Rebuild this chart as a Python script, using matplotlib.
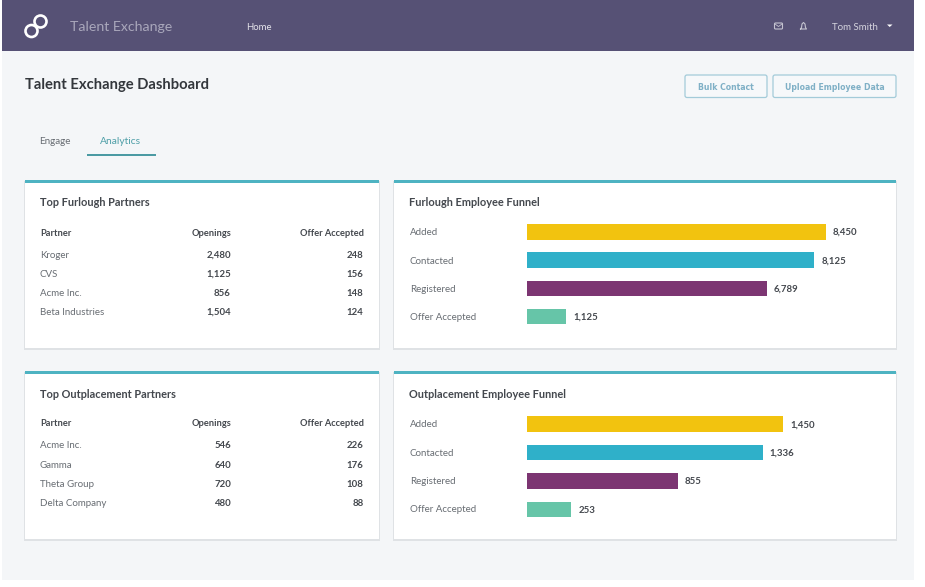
import matplotlib
matplotlib.use('Agg')
import matplotlib.pyplot as plt
from matplotlib.patches import Rectangle, FancyBboxPatch, Circle, Polygon

plt.rcParams['font.family'] = ['Lato', 'DejaVu Sans']

# table data
table_header = ["Partner", "Openings", "Offer Accepted"]
furlough_partners = ["Kroger", "CVS", "Acme Inc.", "Beta Industries"]
furlough_openings = ["2,480", "1,125", "856", "1,504"]
furlough_accepted = ["248", "156", "148", "124"]
outplace_partners = ["Acme Inc.", "Gamma", "Theta Group", "Delta Company"]
outplace_openings = ["546", "640", "720", "480"]
outplace_accepted = ["226", "176", "108", "88"]

# funnel data
stages = ["Added", "Contacted", "Registered", "Offer Accepted"]
stage_colors = ["#f2c30f", "#2fb0c9", "#7c3572", "#66c5a8"]
furlough_funnel = [8450, 8125, 6789, 1125]
outplace_funnel = [1450, 1336, 855, 253]

W, H = 925, 587
TEXT = "#44484e"
GREY = "#686d73"
TEAL = "#4eb3c2"

fig = plt.figure(figsize=(W / 100, H / 100), dpi=100, facecolor="white")
ax = fig.add_axes([0, 0, 1, 1])
ax.set_xlim(0, W)
ax.set_ylim(H, 0)
ax.axis("off")

# page + header
ax.add_patch(Rectangle((2, 0), 912, 580, fc="#f4f6f8", ec="none"))
ax.add_patch(Rectangle((2, 0), 912, 51, fc="#565175", ec="none"))

# logo
ax.add_patch(Circle((31.5, 31), 6, fc="none", ec="white", lw=1.9))
ax.add_patch(Circle((40.5, 21.5), 6, fc="none", ec="white", lw=1.9))

ax.text(70, 27, "Talent Exchange", color="#a9a7bb", fontsize=10.2, va="center")
ax.text(246, 27, "Home", color="#e4e3ea", fontsize=6.9, va="center")
ax.text(832, 27, "Tom Smith", color="#d5d4de", fontsize=7, va="center")
ax.add_patch(Polygon([[887, 24.5], [892.5, 24.5], [889.7, 27]], fc="white", ec="none"))

# mail + bell icons
ax.add_patch(FancyBboxPatch((774.5, 23), 8, 6, boxstyle="round,pad=0,rounding_size=1",
                            fc="none", ec="#c4c3d0", lw=0.8))
ax.plot([775, 778.5, 782], [24, 26.5, 24], color="#c4c3d0", lw=0.6)
ax.plot([800.5, 801.5, 802, 803.5, 805, 805.5, 806.5, 800.5],
        [29, 27.5, 24, 22.5, 24, 27.5, 29, 29], color="#c4c3d0", lw=0.8)

# title
ax.text(25, 85.5, "Talent Exchange Dashboard", color="#33373c", fontsize=10.6,
        fontweight="bold", va="center")

# buttons
for x0, x1, label in [(685, 767, "Bulk Contact"), (773, 896, "Upload Employee Data")]:
    ax.add_patch(FancyBboxPatch((x0, 75), x1 - x0, 22.5, boxstyle="round,pad=0,rounding_size=2",
                                fc="#f6f8fa", ec="#a3cbd9", lw=0.9))
    ax.text((x0 + x1) / 2, 87, label, color="#7fb0c6", fontsize=5.6, fontweight="bold",
            va="center", ha="center", family="DejaVu Sans")

# tabs
ax.text(39.5, 142, "Engage", color=GREY, fontsize=7.1, va="center")
ax.text(100, 142, "Analytics", color="#4f9fa8", fontsize=7.4, va="center")
ax.add_patch(Rectangle((86.5, 153.5), 69, 2.2, fc="#4b9aa3", ec="none"))


def card(x0, y0, x1, y1, title):
    ax.add_patch(Rectangle((x0 - 1, y0 + 1), x1 - x0 + 2, y1 - y0 + 1, fc="#dfe2e5", ec="none"))
    ax.add_patch(Rectangle((x0, y0), x1 - x0, y1 - y0, fc="white", ec="none"))
    ax.add_patch(Rectangle((x0, y0), x1 - x0, 2.5, fc=TEAL, ec="none"))
    ax.text(x0 + 15, y0 + 23, title, color=TEXT, fontsize=7.9, fontweight="bold", va="center")


def table(y0, partners, openings, accepted):
    ax.text(40, y0 + 53, table_header[0], color=TEXT, fontsize=6.7, fontweight="bold", va="center")
    ax.text(231, y0 + 53, table_header[1], color=TEXT, fontsize=6.7, fontweight="bold", va="center", ha="right")
    ax.text(363.5, y0 + 53, table_header[2], color=TEXT, fontsize=6.7, fontweight="bold", va="center", ha="right")
    for i in range(len(partners)):
        y = y0 + 75 + i * 19.1
        ax.text(40, y, partners[i], color=GREY, fontsize=7, va="center")
        ax.text(231, y, openings[i], color=TEXT, fontsize=6.9, fontweight="bold", va="center", ha="right")
        ax.text(363.5, y, accepted[i], color=TEXT, fontsize=6.9, fontweight="bold", va="center", ha="right")


def funnel(values, right_px, centers):
    # axes spans exactly the longest bar, labels sit outside it
    top = centers[0] - 14.25
    bottom = centers[-1] + 14.25
    bar_ax = fig.add_axes([526.5 / W, 1 - bottom / H, (right_px - 526.5) / W, (bottom - top) / H])
    bar_ax.patch.set_alpha(0)
    bar_ax.axis("off")
    ys = range(len(values))
    bar_ax.barh(ys, values, height=15.5 / 28.5, color=stage_colors)
    bar_ax.set_xlim(0, max(values))
    bar_ax.set_ylim(len(values) - 0.5, -0.5)
    for i in ys:
        bar_ax.annotate(f"{values[i]:,}", (values[i], i), xytext=(5, -0.5), textcoords="offset points",
                        color=TEXT, fontsize=6.9, fontweight="bold", va="center",
                        annotation_clip=False)
        ax.text(410, centers[i] + 0.5, stages[i], color=GREY, fontsize=7, va="center")


card(25, 180, 379, 348, "Top Furlough Partners")
card(394, 180, 896, 348, "Furlough Employee Funnel")
card(25, 371, 379, 539, "Top Outplacement Partners")
card(394, 371, 896, 539, "Outplacement Employee Funnel")

table(180, furlough_partners, furlough_openings, furlough_accepted)
table(371, outplace_partners, outplace_openings, outplace_accepted)

funnel(furlough_funnel, 826, [232, 260.5, 288.5, 316.5])
funnel(outplace_funnel, 783, [424, 453, 481, 509.5])

plt.savefig("out.png", dpi=100)
